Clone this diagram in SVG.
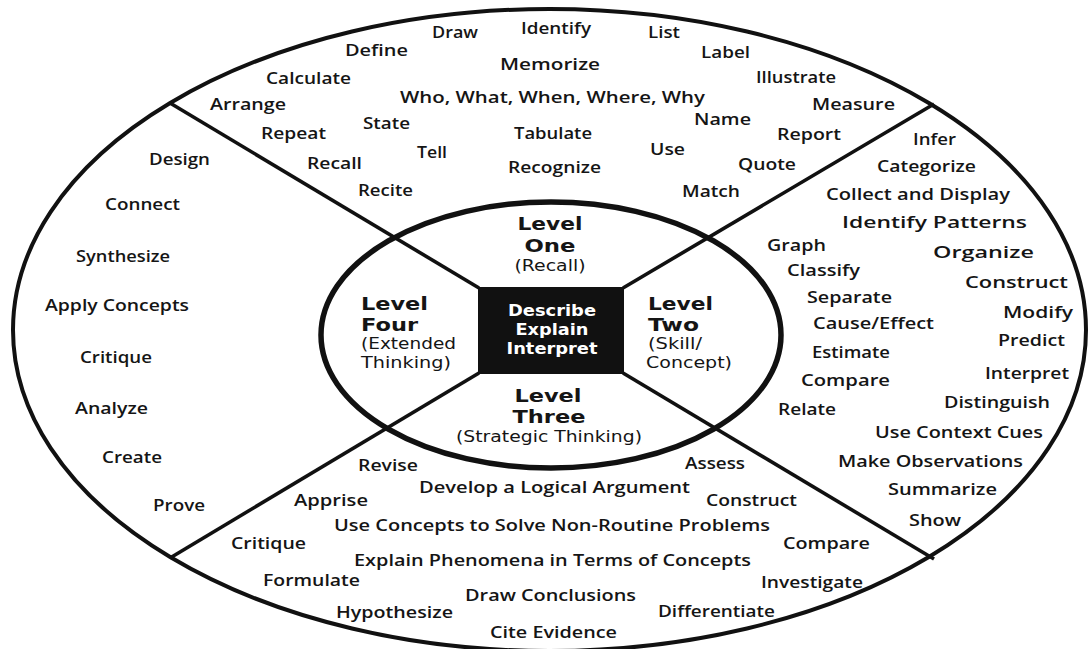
<svg xmlns="http://www.w3.org/2000/svg" width="1088" height="649" viewBox="0 0 1088 649">
<style>
.w{font-family:"Open Sans","Noto Sans","DejaVu Sans",sans-serif;font-weight:600;font-size:17px;fill:#151515}
.lv{font-family:"DejaVu Sans","Verdana",sans-serif;font-weight:bold;font-size:17px;fill:#151515}
.sub{font-family:"DejaVu Sans","Verdana",sans-serif;font-weight:400;font-size:15.5px;fill:#151515}
.bx{font-family:"DejaVu Sans","Verdana",sans-serif;font-weight:700;font-size:15.5px;fill:#fff}
.ln{stroke:#111;stroke-width:3.6;fill:none;stroke-linecap:butt}
</style>
<rect width="1088" height="649" fill="#fff"/>
<ellipse id="outer" cx="549.5" cy="330" rx="536.5" ry="321" fill="none" stroke="#111" stroke-width="4"/>
<g id="connectors">
<line class="ln" x1="170" y1="103" x2="479" y2="288"/>
<line class="ln" x1="934" y1="104" x2="623" y2="288"/>
<line class="ln" x1="170" y1="558" x2="479" y2="373"/>
<line class="ln" x1="934" y1="559" x2="623" y2="373"/>
</g>
<ellipse id="inner" cx="551" cy="335" rx="230" ry="133" fill="none" stroke="#111" stroke-width="5.5"/>
<g id="center-box">
<rect x="478" y="287" width="146" height="87" fill="#111"/>
<text class="bx" x="552" y="316" text-anchor="middle" textLength="88" lengthAdjust="spacingAndGlyphs">Describe</text>
<text class="bx" x="552" y="335" text-anchor="middle" textLength="73" lengthAdjust="spacingAndGlyphs">Explain</text>
<text class="bx" x="552" y="354" text-anchor="middle" textLength="91" lengthAdjust="spacingAndGlyphs">Interpret</text>
</g>
<g id="level-one">
<text class="lv" x="550" y="229.5" text-anchor="middle" textLength="65" lengthAdjust="spacingAndGlyphs">Level</text>
<text class="lv" x="550" y="251.5" text-anchor="middle" textLength="51" lengthAdjust="spacingAndGlyphs">One</text>
<text class="sub" x="550" y="271" text-anchor="middle" textLength="71" lengthAdjust="spacingAndGlyphs">(Recall)</text>
</g>
<g id="level-two">
<text class="lv" x="648" y="309.5" textLength="65" lengthAdjust="spacingAndGlyphs">Level</text>
<text class="lv" x="648" y="330.5" textLength="51" lengthAdjust="spacingAndGlyphs">Two</text>
<text class="sub" x="648" y="349" textLength="54" lengthAdjust="spacingAndGlyphs">(Skill/</text>
<text class="sub" x="646" y="368" textLength="86" lengthAdjust="spacingAndGlyphs">Concept)</text>
</g>
<g id="level-three">
<text class="lv" x="548" y="401.5" text-anchor="middle" textLength="67" lengthAdjust="spacingAndGlyphs">Level</text>
<text class="lv" x="549" y="422.5" text-anchor="middle" textLength="73" lengthAdjust="spacingAndGlyphs">Three</text>
<text class="sub" x="549" y="442" text-anchor="middle" textLength="186" lengthAdjust="spacingAndGlyphs">(Strategic Thinking)</text>
</g>
<g id="level-four">
<text class="lv" x="361" y="309.5" textLength="67" lengthAdjust="spacingAndGlyphs">Level</text>
<text class="lv" x="361" y="330.5" textLength="57" lengthAdjust="spacingAndGlyphs">Four</text>
<text class="sub" x="361" y="349" textLength="95" lengthAdjust="spacingAndGlyphs">(Extended</text>
<text class="sub" x="361" y="368" textLength="90" lengthAdjust="spacingAndGlyphs">Thinking)</text>
</g>
<g id="recall-words">
<text class="w" x="432" y="38" textLength="46" lengthAdjust="spacingAndGlyphs">Draw</text>
<text class="w" x="521" y="34" textLength="70" lengthAdjust="spacingAndGlyphs">Identify</text>
<text class="w" x="648" y="38" textLength="32" lengthAdjust="spacingAndGlyphs">List</text>
<text class="w" x="345" y="56" textLength="63" lengthAdjust="spacingAndGlyphs">Define</text>
<text class="w" x="701" y="58" textLength="49" lengthAdjust="spacingAndGlyphs">Label</text>
<text class="w" x="500" y="70" textLength="100" lengthAdjust="spacingAndGlyphs">Memorize</text>
<text class="w" x="266" y="84" textLength="85" lengthAdjust="spacingAndGlyphs">Calculate</text>
<text class="w" x="756" y="83" textLength="80" lengthAdjust="spacingAndGlyphs">Illustrate</text>
<text class="w" x="400" y="103" textLength="305" lengthAdjust="spacingAndGlyphs">Who, What, When, Where, Why</text>
<text class="w" x="210" y="110" textLength="76" lengthAdjust="spacingAndGlyphs">Arrange</text>
<text class="w" x="812" y="110" textLength="83" lengthAdjust="spacingAndGlyphs">Measure</text>
<text class="w" x="694" y="125" textLength="57" lengthAdjust="spacingAndGlyphs">Name</text>
<text class="w" x="363" y="129" textLength="47" lengthAdjust="spacingAndGlyphs">State</text>
<text class="w" x="261" y="139" textLength="65" lengthAdjust="spacingAndGlyphs">Repeat</text>
<text class="w" x="514" y="139" textLength="78" lengthAdjust="spacingAndGlyphs">Tabulate</text>
<text class="w" x="777" y="140" textLength="64" lengthAdjust="spacingAndGlyphs">Report</text>
<text class="w" x="650" y="155" textLength="35" lengthAdjust="spacingAndGlyphs">Use</text>
<text class="w" x="417" y="158" textLength="30" lengthAdjust="spacingAndGlyphs">Tell</text>
<text class="w" x="307" y="169" textLength="55" lengthAdjust="spacingAndGlyphs">Recall</text>
<text class="w" x="738" y="170" textLength="58" lengthAdjust="spacingAndGlyphs">Quote</text>
<text class="w" x="508" y="173" textLength="93" lengthAdjust="spacingAndGlyphs">Recognize</text>
<text class="w" x="358" y="196" textLength="55" lengthAdjust="spacingAndGlyphs">Recite</text>
<text class="w" x="682" y="197" textLength="58" lengthAdjust="spacingAndGlyphs">Match</text>
</g>
<g id="skill-words">
<text class="w" x="913" y="145" textLength="43" lengthAdjust="spacingAndGlyphs">Infer</text>
<text class="w" x="877" y="172" textLength="99" lengthAdjust="spacingAndGlyphs">Categorize</text>
<text class="w" x="826" y="200" textLength="184" lengthAdjust="spacingAndGlyphs">Collect and Display</text>
<text class="w" x="842" y="228" textLength="185" lengthAdjust="spacingAndGlyphs">Identify Patterns</text>
<text class="w" x="767" y="251" textLength="59" lengthAdjust="spacingAndGlyphs">Graph</text>
<text class="w" x="933" y="258" textLength="101" lengthAdjust="spacingAndGlyphs">Organize</text>
<text class="w" x="787" y="276" textLength="73" lengthAdjust="spacingAndGlyphs">Classify</text>
<text class="w" x="965" y="288" textLength="103" lengthAdjust="spacingAndGlyphs">Construct</text>
<text class="w" x="807" y="303" textLength="85" lengthAdjust="spacingAndGlyphs">Separate</text>
<text class="w" x="1003" y="318" textLength="70" lengthAdjust="spacingAndGlyphs">Modify</text>
<text class="w" x="813" y="329" textLength="121" lengthAdjust="spacingAndGlyphs">Cause/Effect</text>
<text class="w" x="998" y="346" textLength="67" lengthAdjust="spacingAndGlyphs">Predict</text>
<text class="w" x="812" y="358" textLength="78" lengthAdjust="spacingAndGlyphs">Estimate</text>
<text class="w" x="985" y="379" textLength="84" lengthAdjust="spacingAndGlyphs">Interpret</text>
<text class="w" x="801" y="386" textLength="89" lengthAdjust="spacingAndGlyphs">Compare</text>
<text class="w" x="944" y="408" textLength="106" lengthAdjust="spacingAndGlyphs">Distinguish</text>
<text class="w" x="778" y="415" textLength="58" lengthAdjust="spacingAndGlyphs">Relate</text>
<text class="w" x="875" y="438" textLength="168" lengthAdjust="spacingAndGlyphs">Use Context Cues</text>
<text class="w" x="838" y="467" textLength="185" lengthAdjust="spacingAndGlyphs">Make Observations</text>
<text class="w" x="888" y="495" textLength="109" lengthAdjust="spacingAndGlyphs">Summarize</text>
<text class="w" x="909" y="526" textLength="52" lengthAdjust="spacingAndGlyphs">Show</text>
</g>
<g id="extended-words">
<text class="w" x="149" y="165" textLength="61" lengthAdjust="spacingAndGlyphs">Design</text>
<text class="w" x="105" y="210" textLength="75" lengthAdjust="spacingAndGlyphs">Connect</text>
<text class="w" x="76" y="262" textLength="94" lengthAdjust="spacingAndGlyphs">Synthesize</text>
<text class="w" x="45" y="311" textLength="144" lengthAdjust="spacingAndGlyphs">Apply Concepts</text>
<text class="w" x="80" y="363" textLength="72" lengthAdjust="spacingAndGlyphs">Critique</text>
<text class="w" x="75" y="414" textLength="73" lengthAdjust="spacingAndGlyphs">Analyze</text>
<text class="w" x="102" y="463" textLength="60" lengthAdjust="spacingAndGlyphs">Create</text>
<text class="w" x="153" y="511" textLength="52" lengthAdjust="spacingAndGlyphs">Prove</text>
</g>
<g id="strategic-words">
<text class="w" x="358" y="471" textLength="60" lengthAdjust="spacingAndGlyphs">Revise</text>
<text class="w" x="685" y="469" textLength="60" lengthAdjust="spacingAndGlyphs">Assess</text>
<text class="w" x="419" y="493" textLength="271" lengthAdjust="spacingAndGlyphs">Develop a Logical Argument</text>
<text class="w" x="294" y="506" textLength="74" lengthAdjust="spacingAndGlyphs">Apprise</text>
<text class="w" x="706" y="506" textLength="91" lengthAdjust="spacingAndGlyphs">Construct</text>
<text class="w" x="334" y="531" textLength="436" lengthAdjust="spacingAndGlyphs">Use Concepts to Solve Non-Routine Problems</text>
<text class="w" x="231" y="549" textLength="75" lengthAdjust="spacingAndGlyphs">Critique</text>
<text class="w" x="783" y="549" textLength="87" lengthAdjust="spacingAndGlyphs">Compare</text>
<text class="w" x="354" y="566" textLength="397" lengthAdjust="spacingAndGlyphs">Explain Phenomena in Terms of Concepts</text>
<text class="w" x="263" y="586" textLength="97" lengthAdjust="spacingAndGlyphs">Formulate</text>
<text class="w" x="761" y="588" textLength="102" lengthAdjust="spacingAndGlyphs">Investigate</text>
<text class="w" x="465" y="601" textLength="171" lengthAdjust="spacingAndGlyphs">Draw Conclusions</text>
<text class="w" x="336" y="618" textLength="117" lengthAdjust="spacingAndGlyphs">Hypothesize</text>
<text class="w" x="658" y="617" textLength="117" lengthAdjust="spacingAndGlyphs">Differentiate</text>
<text class="w" x="490" y="638" textLength="127" lengthAdjust="spacingAndGlyphs">Cite Evidence</text>
</g>
</svg>
